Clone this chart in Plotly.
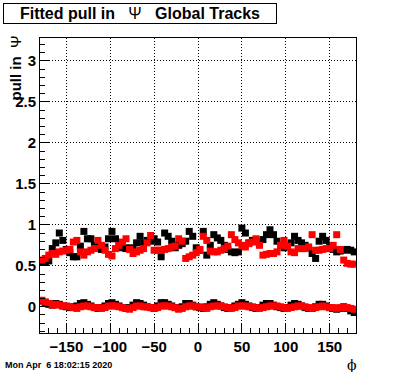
import plotly.graph_objects as go

# bin centers in phi (degrees)
phi = [-178 + 4 * i for i in range(90)]

black_sigma = [0.55, 0.55, 0.56, 0.71, 0.78, 0.90, 0.81, 0.70, 0.66, 0.61,
               0.61, 0.74, 0.92, 0.83, 0.83, 0.75, 0.72, 0.70, 0.73, 0.83,
               0.92, 0.83, 0.76, 0.72, 0.71, 0.72, 0.71, 0.78, 0.86, 0.78,
               0.81, 0.80, 0.83, 0.79, 0.61, 0.90, 0.86, 0.80, 0.72, 0.75,
               0.77, 0.80, 0.92, 0.86, 0.72, 0.69, 0.92, 0.63, 0.75, 0.88,
               0.84, 0.81, 0.75, 0.70, 0.67, 0.66, 0.67, 0.96, 0.90, 0.78,
               0.81, 0.80, 0.76, 0.82, 0.88, 0.94, 0.88, 0.80, 0.75, 0.72,
               0.74, 0.78, 0.86, 0.81, 0.78, 0.75, 0.72, 0.65, 0.59, 0.80,
               0.86, 0.81, 0.73, 0.70, 0.67, 0.68, 0.69, 0.70, 0.69, 0.67]

red_sigma = [0.57, 0.59, 0.63, 0.65, 0.64, 0.67, 0.68, 0.69, 0.70, 0.79,
             0.81, 0.67, 0.63, 0.67, 0.69, 0.71, 0.81, 0.75, 0.69, 0.64,
             0.62, 0.71, 0.75, 0.79, 0.83, 0.70, 0.65, 0.67, 0.69, 0.71,
             0.78, 0.87, 0.69, 0.69, 0.69, 0.70, 0.71, 0.73, 0.74, 0.83,
             0.80, 0.59, 0.61, 0.63, 0.66, 0.70, 0.86, 0.81, 0.68, 0.67,
             0.67, 0.69, 0.71, 0.74, 0.88, 0.82, 0.78, 0.75, 0.73, 0.77,
             0.79, 0.83, 0.75, 0.63, 0.64, 0.65, 0.65, 0.67, 0.75, 0.81,
             0.74, 0.67, 0.66, 0.71, 0.71, 0.71, 0.73, 0.88, 0.69, 0.69,
             0.70, 0.71, 0.71, 0.75, 0.88, 0.70, 0.57, 0.53, 0.52, 0.52]

black_mean = [0.07, 0.05, 0.03, 0.02, 0.04, 0.03, 0.01, 0.00, -0.01, 0.00,
              0.01, 0.04, 0.05, 0.03, 0.01, -0.01, -0.02, -0.01, 0.01, 0.04,
              0.05, 0.03, 0.01, -0.01, -0.02, -0.01, 0.02, 0.05, 0.04, 0.02,
              0.00, -0.01, -0.02, 0.01, 0.05, 0.05, 0.03, 0.01, -0.01, -0.02,
              0.00, 0.04, 0.04, 0.02, 0.00, -0.01, -0.02, 0.00, 0.03, 0.05,
              0.03, 0.01, -0.01, -0.02, -0.01, 0.01, 0.03, 0.05, 0.03, 0.01,
              -0.01, -0.02, -0.01, 0.02, 0.04, 0.04, 0.02, 0.00, -0.01, -0.02,
              -0.01, 0.02, 0.04, 0.03, 0.01, -0.01, -0.02, -0.02, 0.00, 0.03,
              0.03, 0.01, -0.01, -0.02, -0.03, -0.02, 0.00, -0.02, -0.05, -0.07]

red_mean = [0.08, 0.06, 0.04, 0.02, 0.03, 0.02, 0.01, 0.01, 0.00, -0.01,
            -0.02, 0.00, 0.01, 0.01, 0.00, -0.01, -0.01, -0.02, -0.01, 0.01,
            0.01, 0.01, 0.00, -0.01, -0.02, -0.03, -0.01, 0.01, 0.01, 0.00,
            0.00, -0.01, -0.02, -0.01, 0.01, 0.01, 0.01, 0.00, -0.01, -0.03,
            -0.02, 0.00, 0.01, 0.01, 0.00, 0.00, -0.01, -0.02, 0.00, 0.01,
            0.01, 0.01, 0.00, -0.01, -0.02, -0.01, 0.01, 0.01, 0.01, 0.00,
            0.00, -0.01, -0.02, -0.01, 0.00, 0.01, 0.01, 0.01, 0.00, -0.01,
            -0.02, -0.01, 0.00, 0.01, 0.01, 0.00, -0.01, -0.02, -0.01, 0.00,
            0.01, 0.00, -0.01, -0.01, -0.02, -0.01, -0.01, -0.01, -0.02, -0.03]

x_ticks = [-150, -100, -50, 0, 50, 100, 150]
x_ticklabels = ["\u2212150", "\u2212100", "\u221250", "0", "50", "100", "150"]
y_ticks = [0, 0.5, 1, 1.5, 2, 2.5, 3]
y_ticklabels = ["0", "0.5", "1", "1.5", "2", "2.5", "3"]

FONT = "Liberation Sans"
msize = 7

fig = go.Figure()
for yv, col in [(black_sigma, "black"), (black_mean, "black"),
                (red_sigma, "#ff0000"), (red_mean, "#ff0000")]:
    fig.add_trace(go.Scatter(x=phi, y=yv, mode="markers",
                             marker=dict(symbol="square", size=msize, color=col,
                                         line=dict(width=0)),
                             showlegend=False, cliponaxis=True))

axis_common = dict(showline=True, linecolor="black", linewidth=1, mirror=True,
                   ticks="inside", tickcolor="black", tickwidth=1,
                   showgrid=True, gridcolor="black", gridwidth=1, griddash="1px,2px",
                   zeroline=False,
                   tickfont=dict(family=FONT, size=15, color="black", weight="bold"))

W, H = 396, 372
L, R, T, B = 40, 40, 38, 39
PW, PH = W - L - R, H - T - B

fig.update_layout(
    width=W, height=H,
    margin=dict(l=L, r=R, t=T, b=B, autoexpand=False),
    paper_bgcolor="white", plot_bgcolor="white",
    xaxis=dict(range=[-180, 180], tickvals=x_ticks, ticktext=x_ticklabels,
               ticklen=9, automargin=False,
               minor=dict(ticks="inside", ticklen=5, dtick=10,
                          tick0=0, tickcolor="black", showgrid=False),
               **axis_common),
    yaxis=dict(range=[-0.32, 3.28], tickvals=y_ticks, ticktext=y_ticklabels,
               ticklen=9, automargin=False,
               minor=dict(ticks="inside", ticklen=5, dtick=0.1,
                          tick0=0, tickcolor="black", showgrid=False),
               **axis_common),
)

# title box
fig.add_annotation(xref="paper", yref="paper", x=(3 - L) / PW, y=1 + (T - 3) / PH,
                   xanchor="left", yanchor="top", showarrow=False,
                   text="<b>Fitted pull in</b>   \u03a8   <b>Global Tracks</b>",
                   font=dict(family=FONT, size=16, color="black"),
                   bordercolor="black", borderwidth=1, bgcolor="white",
                   borderpad=1, width=270, align="center")

# y axis title
fig.add_annotation(xref="paper", yref="paper", x=(15 - L) / PW, y=1 + 4 / PH,
                   xanchor="center", yanchor="top", showarrow=False, textangle=-90,
                   text="<b>pull in</b>  \u03a8",
                   font=dict(family=FONT, size=15, color="black"))

# x axis title
fig.add_annotation(xref="paper", yref="paper", x=(352 - L) / PW, y=-(355 - (H - B)) / PH,
                   xanchor="center", yanchor="top", showarrow=False,
                   text="\u03d5", font=dict(family="DejaVu Serif", size=14, color="black"))

# date stamp
fig.add_annotation(xref="paper", yref="paper", x=(3 - L) / PW, y=-(358 - (H - B)) / PH,
                   xanchor="left", yanchor="top", showarrow=False,
                   text="<b>Mon Apr  6 18:02:15 2020</b>",
                   font=dict(family=FONT, size=9, color="black"))

fig.write_html("out.html", config={"displayModeBar": False},
               post_script="document.body.style.margin='0';document.body.style.padding='0';")
